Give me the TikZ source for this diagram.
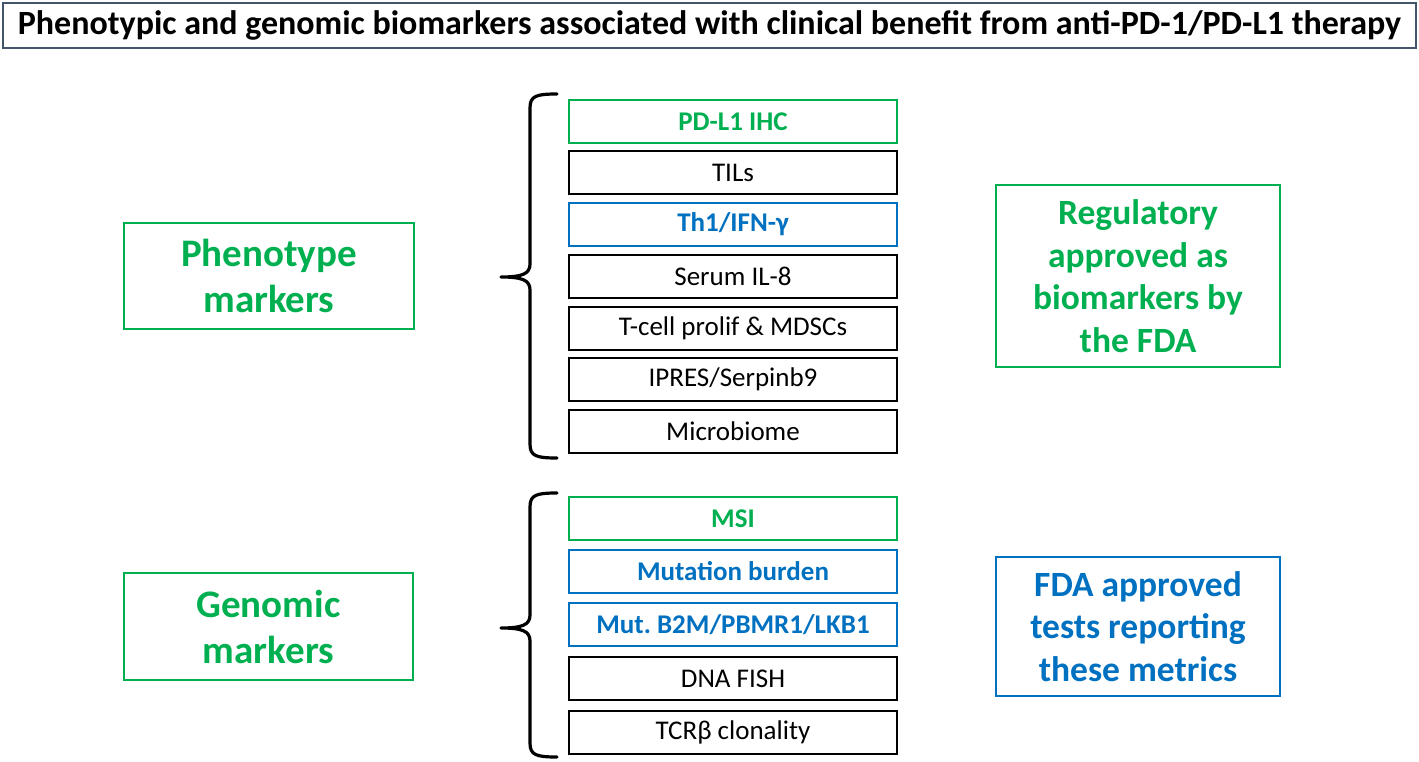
\documentclass[tikz,border=0pt]{standalone}
\usepackage{fontspec}
\setmainfont{Carlito}
\frenchspacing
\definecolor{mgreen}{HTML}{00B050}
\definecolor{mblue}{HTML}{0070C0}
\definecolor{slate}{HTML}{44546A}
\tikzset{
  item/.style={draw=black, line width=1.6pt, minimum width=328pt, minimum height=43pt, inner sep=0pt, font=\fontsize{27}{30}\selectfont},
  gitem/.style={item, draw=mgreen, text=mgreen, font=\fontsize{27}{30}\selectfont\bfseries},
  bitem/.style={item, draw=mblue, text=mblue, font=\fontsize{27}{30}\selectfont\bfseries},
  bigbox/.style={draw=mgreen, line width=1.6pt, text=mgreen, align=center, inner sep=0pt, font=\fontsize{39}{46}\selectfont\bfseries},
  rbox/.style={line width=1.6pt, align=center, inner sep=0pt, minimum width=284pt, font=\fontsize{35.5}{42.5}\selectfont\bfseries},
  brace/.style={line width=3.2pt, line cap=round, line join=round}
}
\begin{document}
\begin{tikzpicture}[x=1pt, y=-1pt]
\useasboundingbox (0,0) rectangle (1419,762);
\node[draw=slate, line width=1.8pt, minimum width=1413pt, minimum height=45pt, inner sep=0pt, font=\fontsize{34}{38}\selectfont\bfseries] (title) at (709.5,25.5) {Phenotypic and genomic biomarkers associated with clinical benefit from anti-PD-1/PD-L1 therapy};

% left boxes
\node[bigbox, minimum width=290pt, minimum height=106pt] (pheno) at (269,276) {Phenotype\\markers};
\node[bigbox, minimum width=289pt, minimum height=107pt] (geno) at (268.5,626.5) {Genomic\\markers};

% phenotype items
\node[gitem] (p1) at (733,121.5) {PD-L1 IHC};
\node[item]  (p2) at (733,172.5) {TILs};
\node[bitem] (p3) at (733,224.5) {Th1/IFN-γ};
\node[item]  (p4) at (733,276.5) {Serum IL-8};
\node[item]  (p5) at (733,328.5) {T-cell prolif \& MDSCs};
\node[item]  (p6) at (733,379.5) {IPRES/Serpinb9};
\node[item]  (p7) at (733,431.5) {Microbiome};

% genomic items
\node[gitem] (g1) at (733,518.5) {MSI};
\node[bitem] (g2) at (733,571.5) {Mutation burden};
\node[bitem] (g3) at (733,624.5) {Mut. B2M/PBMR1/LKB1};
\node[item]  (g4) at (733,678.5) {DNA FISH};
\node[item]  (g5) at (733,732.5) {TCRβ clonality};

% right boxes
\node[rbox, draw=mgreen, text=mgreen, minimum height=182pt] (reg) at (1138,276) {Regulatory\\approved as\\biomarkers by\\the FDA};
\node[rbox, draw=mblue, text=mblue, minimum height=139pt] (fda) at (1138,626.5) {FDA approved\\tests reporting\\these metrics};

% braces
\draw[brace] (557,94) .. controls (536,94) and (530,96) .. (530,108)
  -- (530,264) .. controls (530,274) and (522,277) .. (501,277)
  .. controls (522,277) and (530,280) .. (530,290)
  -- (530,444) .. controls (530,456) and (536,458) .. (557,458);
\draw[brace] (557,493) .. controls (536,493) and (530,495) .. (530,507)
  -- (530,615) .. controls (530,625) and (522,628) .. (501,628)
  .. controls (522,628) and (530,631) .. (530,641)
  -- (530,743) .. controls (530,755) and (536,757) .. (557,757);
\end{tikzpicture}
\end{document}
